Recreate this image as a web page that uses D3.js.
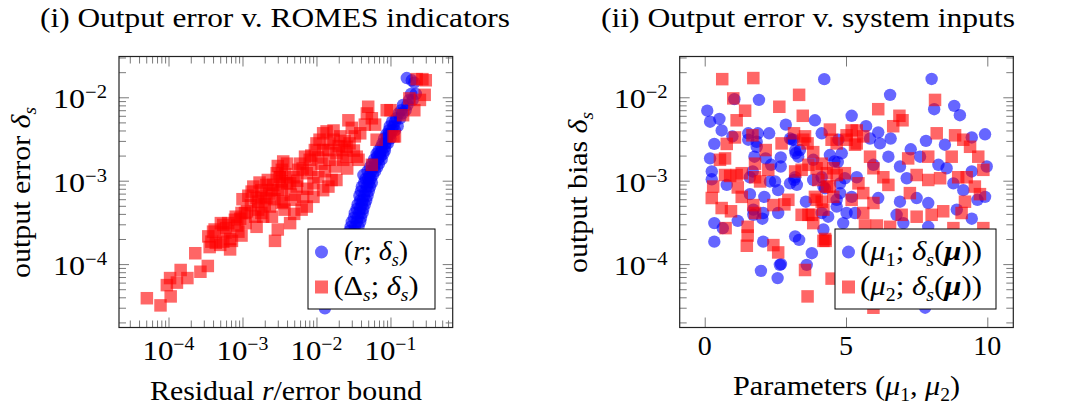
<!DOCTYPE html>
<html><head><meta charset="utf-8">
<script src="https://cdn.jsdelivr.net/npm/d3@7"></script>
<style>
body{margin:0;background:#fff}
svg{font-family:"Liberation Serif",serif}
</style>
</head><body>
<svg id="c" width="1070" height="409"></svg>
<script>
// ---------- data ----------
// (i) residual / error bound (x) vs output error (y)
const leftRed = [
[5.1e-5,3.9e-5],[7.8e-5,3.2e-5],[1.07e-4,4.1e-5],[9.5e-5,5.6e-5],[1.05e-4,6.8e-5],[1.3e-4,6.0e-5],
[1.46e-4,8.5e-5],[1.8e-4,6.8e-5],[2.3e-4,1.35e-4],[2.7e-4,8.1e-5],[3.4e-4,9.5e-5],[3.8e-4,1.86e-4],
[4.0e-4,2.45e-4],[5.0e-4,1.7e-4],[5.5e-4,2.95e-4],[6.8e-4,1.5e-4],[6.8e-4,2.0e-4],[7.9e-4,3.4e-4],
[8.8e-4,2.45e-4],[9.7e-4,2.2e-4],[1.0e-3,6.0e-4],[1.08e-3,4.1e-4],[1.33e-3,7.4e-4],[1.55e-3,2.8e-4],
[1.63e-3,5.6e-4],[1.8e-3,4.1e-4],[2.2e-3,1.02e-3],[2.5e-3,7.7e-4],[2.75e-3,1.9e-4],[3.0e-3,2.6e-4],
[3.2e-3,1.1e-3],[3.55e-3,1.7e-3],[3.4e-3,5.4e-4],
[4.2e-4,2.6e-4],[5.1e-4,3.1e-4],[5.9e-4,2.4e-4],[7.2e-4,1.9e-4],[8.1e-4,3.7e-4],[4.35e-4,1.8e-4],
[9.3e-4,3.5e-4],[1.15e-3,4.3e-4],[1.48e-3,3.7e-4],[1.63e-3,4.5e-4],[1.8e-3,6.4e-4],[2.1e-3,6.2e-4],
[2.35e-3,4.9e-4],[2.6e-3,8.9e-4],[3.0e-3,7.7e-4],[3.4e-3,9.8e-4],[2.5e-3,3.7e-4],[1.9e-3,3.7e-4],
[3.4e-3,1.35e-3],[2.9e-3,1.23e-3],[2.1e-3,8.9e-4],[1.8e-3,7.7e-4],[1.55e-3,6.2e-4],[1.3e-3,5.1e-4],
[9.7e-4,4.1e-4],[6.4e-4,3.1e-4],[3.45e-4,2.15e-4],[3.6e-4,1.6e-4],[5.5e-4,1.86e-4],
[4.0e-3,1.6e-3],[4.9e-3,1.1e-3],[4.4e-3,3.1e-4],[3.7e-3,4.5e-4],[5.1e-3,5.9e-4],[6.6e-3,6.4e-4],
[6.0e-3,1.6e-3],[7.4e-3,1.23e-3],[9.1e-3,9.3e-4],[1.0e-2,2.8e-3],[1.23e-2,2.33e-3],[1.37e-2,3.9e-3],
[1.5e-2,1.78e-3],[1.7e-2,3.1e-3],[1.86e-2,1.02e-3],[2.3e-2,1.78e-3],[2.55e-2,2.55e-3],[2.7e-2,5.3e-3],
[3.0e-2,4.3e-3],[3.3e-2,3.4e-3],[3.7e-2,1.78e-3],[5.0e-2,7.7e-3],[5.6e-2,5.6e-3],[6.2e-2,4.7e-3],
[6.5e-2,3.1e-3],[5.6e-2,1.55e-3],[1.0e-1,7.0e-3],[1.15e-1,3.4e-3],[1.48e-1,6.1e-3],[1.8e-1,9.7e-3],
[2.1e-1,7.0e-3],[2.5e-1,9.3e-3],[2.9e-1,1.07e-2],[2.26e-1,1.65e-2],[3.0e-1,1.6e-2],[2.7e-1,1.65e-2],
[3.2e-3,1.1e-3],[3.4e-3,7.7e-4],[3.55e-3,5.6e-4],[4.4e-3,9.3e-4],[5.4e-3,8.5e-4],[5.7e-3,1.35e-3],
[7.0e-3,1.94e-3],[8.1e-3,1.78e-3],[8.5e-3,1.35e-3],[9.5e-3,2.33e-3],[1.06e-2,1.1e-3],[1.17e-2,1.6e-3],
[1.23e-2,7.7e-4],[1.45e-2,2.33e-3],[1.6e-2,1.02e-3],[1.78e-2,1.48e-3],[1.86e-2,2.13e-3],[2.1e-2,3.4e-3],
[2.2e-2,2.33e-3],[2.55e-2,1.94e-3],[2.8e-2,2.8e-3],[3.5e-2,1.94e-3],[3.9e-2,3.7e-3],[4.5e-2,4.7e-3],
[4.8e-2,6.4e-3],[1.45e-2,8.5e-4],[9.1e-3,6.4e-4],[7.4e-3,4.9e-4],[6.3e-3,4.5e-4],[4.0e-3,9.3e-4],
[1.23e-2,3.7e-3],[1.7e-2,4.0e-3],[1.1e-2,3.1e-3],[1.1e-1,3.4e-3],[8.9e-2,7.0e-3],
[1.2e-3,6.6e-4],[1.4e-3,8.5e-4],[1.7e-3,9.5e-4],[2.0e-3,5.2e-4],[2.3e-3,7.0e-4],[2.7e-3,6.0e-4],
[3.0e-3,1.5e-3],[3.8e-3,1.2e-3],[4.5e-3,6.8e-4],[5.5e-3,1.0e-3],[6.5e-3,1.4e-3],[7.5e-3,8.0e-4],
[8.5e-3,2.0e-3],[1.05e-2,1.9e-3],[1.3e-2,1.3e-3],[1.5e-2,2.8e-3],[2.0e-2,2.6e-3],[2.4e-2,3.0e-3],
[3.2e-2,2.3e-3],[2.6e-2,1.4e-3],[6.0e-4,2.7e-4],[8.5e-4,2.9e-4],[1.1e-3,3.1e-4],[5.0e-3,4.0e-4]
];
const leftBlue = [
[1.66e-1,1.7e-2],[1.94e-1,1.6e-2],[2.1e-1,1.5e-2],[2.2e-1,1.1e-2],[1.9e-1,1.1e-2],[1.8e-1,9.3e-3],
[2.0e-1,9.3e-3],[1.48e-1,8.1e-3],[1.7e-1,8.1e-3],[1.4e-1,7.0e-3],[1.6e-1,7.0e-3],[1.29e-1,6.4e-3],
[1.45e-1,6.4e-3],[1.2e-1,5.6e-3],[1.35e-1,5.6e-3],[1.15e-1,5.1e-3],[1.05e-1,5.1e-3],[1.1e-1,4.5e-3],
[1.25e-1,4.5e-3],[9.8e-2,4.5e-3],[1.05e-1,4.0e-3],[9.5e-2,4.0e-3],[1.15e-1,4.0e-3],[9.4e-2,3.6e-3],
[1.0e-1,3.6e-3],[8.8e-2,3.6e-3],[9.0e-2,3.2e-3],[8.2e-2,3.2e-3],[1.0e-1,3.2e-3],[8.5e-2,2.8e-3],
[7.8e-2,2.8e-3],[9.2e-2,2.8e-3],[8.5e-2,2.55e-3],[7.5e-2,2.55e-3],[7.6e-2,2.3e-3],[8.4e-2,2.3e-3],
[6.9e-2,2.3e-3],[7.2e-2,2.1e-3],[8.0e-2,2.1e-3],[6.5e-2,2.1e-3],[7.3e-2,1.94e-3],[6.6e-2,1.94e-3],
[6.8e-2,1.8e-3],[7.6e-2,1.8e-3],[6.0e-2,1.8e-3],[6.2e-2,1.6e-3],[7.0e-2,1.6e-3],[5.6e-2,1.6e-3],
[6.0e-2,1.45e-3],[6.6e-2,1.45e-3],[5.3e-2,1.45e-3],[5.5e-2,1.3e-3],[6.2e-2,1.3e-3],[4.9e-2,1.3e-3],
[4.3e-2,1.17e-3],[5.2e-2,1.17e-3],[5.8e-2,1.17e-3],[4.6e-2,1.05e-3],[5.4e-2,1.05e-3],[5.0e-2,1.05e-3],
[4.4e-2,9.5e-4],[5.1e-2,9.5e-4],[5.6e-2,9.5e-4],[4.1e-2,8.5e-4],[4.8e-2,8.5e-4],[5.3e-2,8.5e-4],
[4.0e-2,7.5e-4],[4.6e-2,7.5e-4],[5.1e-2,7.5e-4],[3.8e-2,6.6e-4],[4.4e-2,6.6e-4],[4.9e-2,6.6e-4],
[3.9e-2,5.8e-4],[4.2e-2,5.8e-4],[4.7e-2,5.8e-4],[3.6e-2,5.2e-4],[4.1e-2,5.2e-4],[4.5e-2,5.2e-4],
[3.5e-2,4.6e-4],[3.9e-2,4.6e-4],[4.3e-2,4.6e-4],[3.3e-2,4.1e-4],[3.8e-2,4.1e-4],[4.2e-2,4.1e-4],
[3.2e-2,3.6e-4],[3.6e-2,3.6e-4],[4.0e-2,3.6e-4],[3.0e-2,3.2e-4],[3.5e-2,3.2e-4],[3.9e-2,3.2e-4],
[2.9e-2,2.8e-4],[3.3e-2,2.8e-4],[3.7e-2,2.8e-4],[2.8e-2,2.5e-4],[3.2e-2,2.5e-4],[2.7e-2,2.2e-4],
[3.1e-2,2.2e-4],[2.5e-2,1.5e-4],[2.2e-2,1.0e-4],[2.0e-2,7.0e-5],[1.7e-2,5.0e-5],[1.3e-2,2.95e-5]
];
// (ii) parameter value (x) vs output bias (y)
const rightBlue = [
[0.09,6.9e-3],[0.19,5.1e-3],[0.52,5.5e-3],[0.60,4.0e-3],[0.34,2.76e-3],[0.19,1.85e-3],[0.25,1.29e-3],
[0.25,1.04e-3],[0.78,8.9e-4],[0.34,3.1e-4],[0.64,2.7e-4],[0.34,1.86e-4],[0.98,3.4e-3],[1.05,9.5e-3],
[1.92,9.3e-3],[1.54,3.1e-3],[1.84,2.93e-3],[1.88,3.7e-3],[2.28,3.7e-3],[1.76,1.94e-3],[2.35,1.55e-3],
[2.69,1.48e-3],[2.69,1.9e-3],[1.70,1.29e-3],[2.31,9.8e-4],[2.60,7.7e-4],[1.60,6.9e-4],[2.11,6.4e-4],
[2.60,4.1e-4],[1.72,3.9e-4],[2.04,3.5e-4],[1.17,3.3e-4],[2.07,1.86e-4],[2.70,1.0e-4],[1.99,8.3e-5],
[2.58,6.8e-5],[2.87,4.7e-3],[3.08,3.1e-3],[3.22,2.13e-3],[3.31,1.94e-3],[3.02,9.3e-4],[3.26,8.9e-4],
[3.58,5.6e-4],[3.90,5.3e-3],[4.23,1.65e-2],[3.20,2.15e-4],[3.79,1.35e-4],[3.61,9.8e-5],[4.59,1.7e-3],
[4.79,9.3e-4],[4.26,8.1e-4],[4.67,5.9e-4],[4.14,4.1e-4],[4.20,2.6e-4],[4.71,1.67e-3],[4.14,1.1e-3],
[2.49,9.8e-4],[3.02,3.2e-3],[2.66,9.8e-5],[3.20,1.1e-3],[1.60,1.1e-3],[1.72,4.5e-4],[2.07,4.1e-4],
[1.54,3.7e-3],[1.84,2.55e-3],[2.16,1.85e-3],[3.17,1.02e-3],[3.34,1.95e-4],[3.20,2.3e-3],
[3.14,3.1e-3],[3.37,2.33e-3],[3.84,1.78e-3],[3.84,1.02e-3],[4.20,8.5e-4],[4.79,7.1e-4],[4.67,4.9e-4],
[4.37,3.7e-4],[5.02,4.1e-4],[4.14,3.7e-3],[4.73,3.1e-3],[4.85,2.13e-3],[4.43,2.03e-3],
[6.56,1.07e-2],[8.03,1.66e-2],[8.12,7.2e-3],[8.83,7.9e-3],[9.03,6.1e-3],[5.20,6.0e-3],[5.71,4.5e-3],
[6.14,3.8e-3],[6.58,3.2e-3],[6.20,2.8e-3],[5.85,3.2e-3],[7.83,3.0e-3],[8.50,2.7e-3],[9.45,3.3e-3],
[9.92,3.6e-3],[7.29,2.38e-3],[6.50,1.94e-3],[6.91,1.48e-3],[5.97,1.55e-3],[5.38,1.1e-3],[4.96,1.07e-3],
[7.62,1.94e-3],[8.27,1.55e-3],[8.56,1.41e-3],[9.45,1.29e-3],[9.98,1.48e-3],[9.92,6.4e-4],[9.65,5.9e-4],
[9.45,3.5e-4],[8.92,4.5e-4],[7.91,5.4e-4],[7.50,6.2e-4],[6.91,5.6e-4],[6.79,3.9e-4],[6.14,6.2e-4],
[5.20,6.4e-4],[5.32,4.1e-4],[7.03,3.1e-4],[7.91,2.8e-4],[8.80,9.3e-4],[9.15,7.7e-4],[7.15,1.07e-3],
[4.90,3.1e-4],[7.80,3.0e-5]
];
const rightRed = [
[0.62,1.65e-2],[1.72,1.7e-2],[1.01,9.7e-3],[1.43,6.9e-3],[1.13,5.3e-3],[2.64,7.7e-3],[3.34,1.07e-2],
[3.47,6.0e-3],[0.78,2.76e-3],[1.07,3.3e-3],[1.69,3.5e-3],[2.16,2.33e-3],[2.72,2.8e-3],[3.16,3.7e-3],
[3.49,3.1e-3],[3.64,2.8e-3],[0.54,1.78e-3],[0.72,1.85e-3],[0.72,1.17e-3],[0.90,1.14e-3],[1.13,1.17e-3],
[1.31,1.23e-3],[0.30,8.5e-4],[0.25,6.2e-4],[0.60,4.7e-4],[0.93,4.3e-4],[0.74,2.7e-4],[1.52,2.8e-4],
[1.52,2.2e-4],[1.49,1.66e-4],[1.72,5.1e-4],[1.78,4.1e-4],[1.31,6.4e-4],[1.17,8.3e-4],[1.78,1.1e-3],
[1.96,9.8e-4],[2.25,1.35e-3],[2.43,5.1e-4],[2.82,5.2e-4],[2.96,5.9e-4],[2.43,1.69e-4],[2.60,1.38e-4],
[3.55,8.5e-5],[3.64,4.1e-5],[3.43,3.9e-4],[3.67,3.9e-4],[3.84,3.1e-4],[3.90,6.4e-4],[4.14,5.6e-4],
[3.20,1.29e-3],[3.43,1.35e-3],[3.67,1.55e-3],[3.96,1.41e-3],[4.02,1.02e-3],[4.28,1.9e-4],[4.49,6.7e-5],
[4.43,4.1e-3],[4.49,3.1e-3],[4.67,2.8e-3],[4.32,8.5e-4],[4.67,1.17e-3],[1.78,1.6e-3],
[3.55,3.4e-3],[3.84,2.2e-3],[4.14,1.6e-3],[4.32,1.23e-3],[4.55,1.41e-3],[4.43,8.5e-4],[4.55,6.4e-4],
[3.96,5.9e-4],[4.20,4.5e-4],[3.79,3.9e-4],[4.26,2.0e-4],[5.20,4.0e-3],[5.02,3.1e-3],[5.38,2.8e-3],
[4.96,1.23e-3],[5.44,9.3e-4],[5.20,5.9e-4],[5.61,4.1e-4],
[6.14,7.2e-3],[6.89,6.0e-3],[7.00,5.3e-3],[6.67,4.5e-3],[8.15,9.3e-3],[8.21,3.7e-3],[8.86,3.5e-3],
[9.15,3.1e-3],[9.39,2.55e-3],[9.68,1.94e-3],[9.86,1.35e-3],[5.02,3.5e-3],[5.38,4.0e-3],[5.32,2.7e-3],
[5.61,3.4e-3],[5.85,1.94e-3],[5.97,1.41e-3],[6.32,1.1e-3],[6.50,8.9e-4],[7.20,1.85e-3],[7.50,1.17e-3],
[7.91,1.94e-3],[7.91,1.02e-3],[8.33,1.07e-3],[8.74,1.94e-3],[8.97,1.1e-3],[9.27,1.1e-3],[9.56,8.5e-4],
[9.74,6.9e-4],[9.21,5.6e-4],[9.09,4.1e-4],[8.44,4.3e-4],[8.03,3.9e-4],[7.50,3.7e-4],[6.97,3.9e-4],
[7.26,7.1e-4],[5.97,5.4e-4],[5.61,7.1e-4],[5.67,2.9e-4],[6.09,2.9e-4],[6.56,2.8e-4],[5.97,3.0e-5],
[8.80,2.7e-4],[9.86,2.7e-4],[4.20,1.9e-4]
];
const yMajorTicks = [1e-4, 1e-3, 1e-2];
const xMajorTicksLeft = [1e-4, 1e-3, 1e-2, 1e-1];
const xTicksRight = [0, 5, 10];
const titles = ["(i) Output error v. ROMES indicators", "(ii) Output error v. system inputs"];

// ---------- layout ----------
const svg = d3.select("#c");
const FONT = "'Liberation Serif', serif";
const yTop = 56.5, yBot = 327.5;
const L = {x0: 119, x1: 452.7}, R = {x0: 679.7, x1: 1013.3};
const yScale = d3.scaleLog().domain([Math.pow(10,-4.760), Math.pow(10,-1.511)]).range([yBot, yTop]);
const xLeft = d3.scaleLog().domain([Math.pow(10,-4.669), Math.pow(10,-0.159)]).range([L.x0, L.x1]);
const xRight = d3.scaleLinear().domain([-0.885, 10.92]).range([R.x0, R.x1]);

const BLUE = "#0000ff", RED = "#ff0000", OP = 0.6;
const FS = 28, SUPFS = 18;

function minorLog(scale){
  const [a,b] = scale.domain(); const out=[];
  for(let e=Math.floor(Math.log10(a)); e<=Math.ceil(Math.log10(b)); e++)
    for(let k=2;k<=9;k++){ const v=k*Math.pow(10,e); if(v>=a && v<=b) out.push(v); }
  return out;
}
function styleAxis(g){
  g.select(".domain").remove();
  g.selectAll(".tick line").attr("stroke","#7a7a7a").attr("stroke-width",1);
  g.selectAll(".tick text").remove();
}
function mkText(x, y, anchor, len){
  const t = svg.append("text").attr("x",x).attr("y",y).attr("text-anchor",anchor)
    .attr("font-family",FONT).attr("font-size",FS).attr("fill","#000");
  if (len) t.attr("textLength",len).attr("lengthAdjust","spacingAndGlyphs");
  return t;
}
function richText(sel, segs){
  let shift = 0;
  segs.forEach(s=>{
    const target = s.sub ? 6 : (s.sup ? -10 : 0);
    const t = sel.append("tspan").attr("font-family",FONT).text(s.t);
    if (target !== shift) { t.attr("dy", target - shift); shift = target; }
    if (s.sub || s.sup) t.attr("font-size", SUPFS);
    if (s.i) t.attr("font-style","italic");
    if (s.b) t.attr("font-weight","bold");
  });
  return sel;
}
function pow10(sel, e){ richText(sel, [{t:"10"},{t:"\u2212"+Math.abs(e), sup:1}]); }

function panel(P, xs, isLog, xMaj, clipId){
  const g = svg.append("g");
  [[d3.axisBottom(xs), `translate(0,${yBot})`],[d3.axisTop(xs), `translate(0,${yTop})`]].forEach(([a,tr])=>{
    g.append("g").attr("transform",tr).call(a.tickValues(xMaj).tickSize(-10).tickSizeOuter(0)).call(styleAxis);
    if(isLog) g.append("g").attr("transform",tr).call(a.tickValues(minorLog(xs)).tickSize(-7).tickSizeOuter(0)).call(styleAxis);
  });
  [[d3.axisLeft(yScale), `translate(${P.x0},0)`],[d3.axisRight(yScale), `translate(${P.x1},0)`]].forEach(([a,tr])=>{
    g.append("g").attr("transform",tr).call(a.tickValues(yMajorTicks).tickSize(-10).tickSizeOuter(0)).call(styleAxis);
    g.append("g").attr("transform",tr).call(a.tickValues(minorLog(yScale)).tickSize(-7).tickSizeOuter(0)).call(styleAxis);
  });
  svg.append("clipPath").attr("id",clipId).append("rect")
    .attr("x",P.x0).attr("y",yTop).attr("width",P.x1-P.x0).attr("height",yBot-yTop);
  yMajorTicks.forEach(v=>{
    pow10(mkText(P.x0-12, yScale(v)+11, "end", 54), Math.round(Math.log10(v)));
  });
  return svg.append("g").attr("clip-path",`url(#${clipId})`);
}
function frame(P){
  svg.append("rect").attr("x",P.x0).attr("y",yTop).attr("width",P.x1-P.x0).attr("height",yBot-yTop)
    .attr("fill","none").attr("stroke","#222").attr("stroke-width",1.2);
}
function circles(g, data, xs){
  g.selectAll(null).data(data).enter().append("circle")
    .attr("cx",d=>xs(d[0])).attr("cy",d=>yScale(d[1])).attr("r",6.2)
    .attr("fill",BLUE).attr("fill-opacity",OP);
}
function squares(g, data, xs){
  const s = 12.5;
  g.selectAll(null).data(data).enter().append("rect")
    .attr("x",d=>xs(d[0])-s/2).attr("y",d=>yScale(d[1])-s/2).attr("width",s).attr("height",s)
    .attr("fill",RED).attr("fill-opacity",OP);
}
function legend(x0,x1,y0,y1, textCx, widths, labels){
  svg.append("rect").attr("x",x0).attr("y",y0).attr("width",x1-x0).attr("height",y1-y0)
    .attr("fill","#fff").attr("stroke","#000").attr("stroke-width",1);
  const mx = x0+13.5, r1 = y0+23, r2 = y0+58;
  svg.append("circle").attr("cx",mx).attr("cy",r1).attr("r",6.5).attr("fill",BLUE).attr("fill-opacity",OP);
  svg.append("rect").attr("x",mx-6.5).attr("y",r2-6.5).attr("width",13).attr("height",13).attr("fill",RED).attr("fill-opacity",OP);
  richText(mkText(textCx, r1+8, "middle", widths[0]), labels[0]);
  richText(mkText(textCx, r2+8, "middle", widths[1]), labels[1]);
}

// ---- panel (i) ----
const gL = panel(L, xLeft, true, xMajorTicksLeft, "clipL");
circles(gL, leftBlue, xLeft);
squares(gL, leftRed, xLeft);
frame(L);
xMajorTicksLeft.forEach(v=>{
  pow10(mkText(xLeft(v), 360, "middle", 52), Math.round(Math.log10(v)));
});
legend(308, 435, 229, 309, 376, [64, 85], [
  [{t:"("},{t:"r",i:1},{t:"; "},{t:"δ",i:1},{t:"s",i:1,sub:1},{t:")"}],
  [{t:"(Δ"},{t:"s",i:1,sub:1},{t:"; "},{t:"δ",i:1},{t:"s",i:1,sub:1},{t:")"}]
]);

// ---- panel (ii) ----
const gR = panel(R, xRight, false, xTicksRight, "clipR");
circles(gR, rightBlue, xRight);
squares(gR, rightRed, xRight);
frame(R);
xTicksRight.forEach(v=>{ mkText(xRight(v), 355, "middle").text(v); });
legend(835, 996, 229, 309, 921, [122, 122], [
  [{t:"("},{t:"μ",i:1},{t:"1",sub:1},{t:"; "},{t:"δ",i:1},{t:"s",i:1,sub:1},{t:"("},{t:"μ",i:1,b:1},{t:"))"}],
  [{t:"("},{t:"μ",i:1},{t:"2",sub:1},{t:"; "},{t:"δ",i:1},{t:"s",i:1,sub:1},{t:"("},{t:"μ",i:1,b:1},{t:"))"}]
]);

// ---- titles and axis labels ----
mkText(275, 27, "middle", 470).text(titles[0]);
mkText(808, 27, "middle", 414).text(titles[1]);
richText(mkText(286, 400, "middle", 272), [{t:"Residual "},{t:"r",i:1},{t:"/error bound"}]);
richText(mkText(846.5, 395, "middle", 227),
  [{t:"Parameters ("},{t:"μ",i:1},{t:"1",sub:1},{t:", "},{t:"μ",i:1},{t:"2",sub:1},{t:")"}]);
richText(mkText(0, 0, "middle", 171).attr("x",null).attr("y",null)
  .attr("transform",`translate(30,192.5) rotate(-90)`), [{t:"output error "},{t:"δ",i:1},{t:"s",i:1,sub:1}]);
richText(mkText(0, 0, "middle", 161).attr("x",null).attr("y",null)
  .attr("transform",`translate(587,192.5) rotate(-90)`), [{t:"output bias "},{t:"δ",i:1},{t:"s",i:1,sub:1}]);
</script>
</body></html>
